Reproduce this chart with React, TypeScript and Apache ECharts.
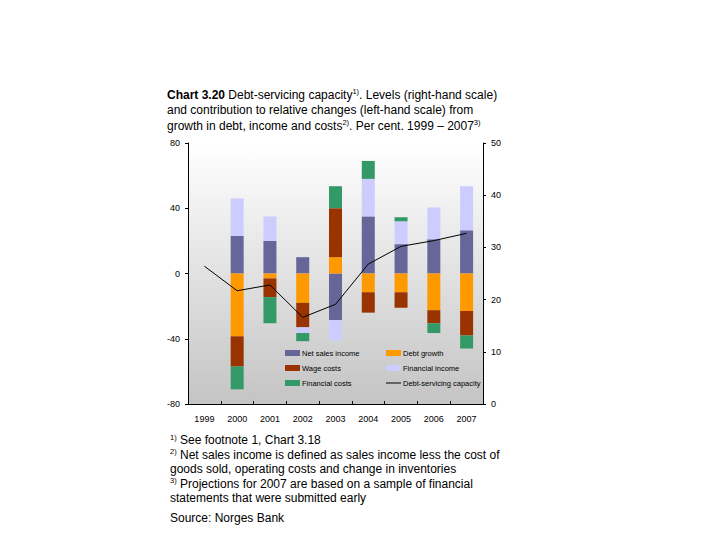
import React, { useEffect, useRef } from "react";
import * as echarts from "echarts";

const years = ["1999", "2000", "2001", "2002", "2003", "2004", "2005", "2006", "2007"];
const netSalesIncome = [null, 23, 20, 10, -28.5, 35, 18, 21, 26.5];
const debtGrowth = [null, -38.5, -3, -18, 10, -11.5, -11.5, -22.5, -23];
const wageCosts = [null, -18.5, -11.5, -15, 30, -12.5, -9.5, -8, -15];
const financialIncome = [null, 23, 15, -3.5, -12.5, 23, 14, 19.5, 27];
const financialCosts = [null, -14, -16, -5, 13.5, 11, 2.5, -6, -8];
const debtServicingCapacity = [26.4, 21.7, 22.8, 16.6, 19.1, 26.8, 30.2, 31.3, 32.7];
const leftTicks = { min: -80, max: 80, interval: 40 };
const rightTicks = { min: 0, max: 50, interval: 10 };

const FONT = "'Liberation Sans', Arial, Helvetica, sans-serif";
const NARROW = "'Liberation Sans Narrow', 'Liberation Sans', Arial, sans-serif";

export default function App() {
  const ref = useRef<HTMLDivElement>(null);
  useEffect(() => {
    if (!ref.current) return;
    const chart = echarts.init(ref.current, undefined, { renderer: "svg" });
    const bar = (name: string, data: (number | null)[], color: string) => ({
      name,
      type: "bar",
      stack: "total",
      data,
      barWidth: 13,
      itemStyle: { color },
      yAxisIndex: 0,
    });
    const legendText = { fontSize: 7.5, fontFamily: NARROW, color: "#000", padding: [0, 0, 0, -3] };
    chart.setOption({
      animation: false,
      backgroundColor: "#ffffff",
      textStyle: { fontFamily: FONT },
      title: {
        left: 167,
        top: 87,
        padding: 0,
        text:
          "{b|Chart 3.20} Debt-servicing capacity{s|1)}. Levels (right-hand scale)\n" +
          "and contribution to relative changes (left-hand scale) from\n" +
          "growth in debt, income and costs{s|2)}. Per cent. 1999 – 2007{s|3)}",
        textStyle: {
          fontSize: 12,
          fontWeight: "normal",
          color: "#000",
          lineHeight: 15.5,
          fontFamily: FONT,
          rich: {
            b: { fontWeight: "bold", fontSize: 12, fontFamily: FONT, color: "#000" },
            s: { fontSize: 7.5, verticalAlign: "top", fontFamily: FONT, color: "#000" },
          },
        },
      },
      grid: {
        left: 188,
        right: 237,
        top: 143,
        bottom: 136,
        show: true,
        borderWidth: 0,
        backgroundColor: new echarts.graphic.LinearGradient(0, 0, 0, 1, [
          { offset: 0, color: "#ffffff" },
          { offset: 1, color: "#c4c4c4" },
        ]),
      },
      legend: [
        {
          orient: "vertical",
          left: 285,
          top: 349,
          padding: 0,
          itemWidth: 15,
          itemHeight: 6,
          itemGap: 7,
          textStyle: legendText,
          data: [
            { name: "Net sales income", icon: "rect" },
            { name: "Wage costs", icon: "rect" },
            { name: "Financial costs", icon: "rect" },
          ],
        },
        {
          orient: "vertical",
          left: 386,
          top: 349,
          padding: 0,
          itemWidth: 15,
          itemHeight: 6,
          itemGap: 7,
          symbolKeepAspect: true,
          textStyle: legendText,
          data: [
            { name: "Debt growth", icon: "rect" },
            { name: "Financial income", icon: "rect" },
            {
              name: "Debt-servicing capacity",
              icon: "path://M0,0 L30,0 L30,2 L0,2 Z",
              itemStyle: { color: "#000" },
            },
          ],
        },
      ],
      xAxis: {
        type: "category",
        data: years,
        boundaryGap: true,
        axisLine: { show: true, onZero: false, lineStyle: { color: "#000", width: 1 } },
        axisTick: { show: true, inside: true, length: 3, alignWithLabel: false, lineStyle: { color: "#000" } },
        axisLabel: { fontSize: 9, fontFamily: NARROW, color: "#000", margin: 10 },
        splitLine: { show: false },
      },
      yAxis: [
        {
          type: "value",
          position: "left",
          min: leftTicks.min,
          max: leftTicks.max,
          interval: leftTicks.interval,
          axisLine: { show: true, lineStyle: { color: "#000", width: 1 } },
          axisTick: { show: true, length: 3, lineStyle: { color: "#000" } },
          axisLabel: { fontSize: 9, fontFamily: NARROW, color: "#000", margin: 8 },
          splitLine: { show: false },
        },
        {
          type: "value",
          position: "right",
          min: rightTicks.min,
          max: rightTicks.max,
          interval: rightTicks.interval,
          axisLine: { show: true, lineStyle: { color: "#000", width: 1 } },
          axisTick: { show: true, length: 3, lineStyle: { color: "#000" } },
          axisLabel: { fontSize: 9, fontFamily: NARROW, color: "#000", margin: 8 },
          splitLine: { show: false },
        },
      ],
      series: [
        bar("Net sales income", netSalesIncome, "#666699"),
        bar("Debt growth", debtGrowth, "#FF9900"),
        bar("Wage costs", wageCosts, "#993300"),
        bar("Financial income", financialIncome, "#CCCCFF"),
        bar("Financial costs", financialCosts, "#339966"),
        {
          name: "Debt-servicing capacity",
          type: "line",
          yAxisIndex: 1,
          data: debtServicingCapacity,
          symbol: "none",
          lineStyle: { color: "#000", width: 1 },
          itemStyle: { color: "#000" },
          z: 10,
        },
      ],
      graphic: [
        {
          type: "text",
          left: 170,
          top: 433,
          style: {
            text:
              "{s|1)} See footnote 1, Chart 3.18\n" +
              "{s|2)} Net sales income is defined as sales income less the cost of\n" +
              "goods sold, operating costs and change in inventories\n" +
              "{s|3)} Projections for 2007 are based on a sample of financial\n" +
              "statements that were submitted early",
            font: `12px ${FONT}`,
            fill: "#000",
            lineHeight: 14.5,
            rich: {
              s: { fontSize: 7.5, verticalAlign: "top", fontFamily: FONT, fill: "#000" },
            },
          },
        },
        {
          type: "text",
          left: 170,
          top: 512,
          style: { text: "Source: Norges Bank", font: `12px ${FONT}`, fill: "#000" },
        },
      ],
    });
    return () => chart.dispose();
  }, []);
  return (
    <div style={{ position: "absolute", left: 0, top: 0, width: 720, height: 540 }}>
      <div ref={ref} style={{ width: 720, height: 540 }} />
    </div>
  );
}
